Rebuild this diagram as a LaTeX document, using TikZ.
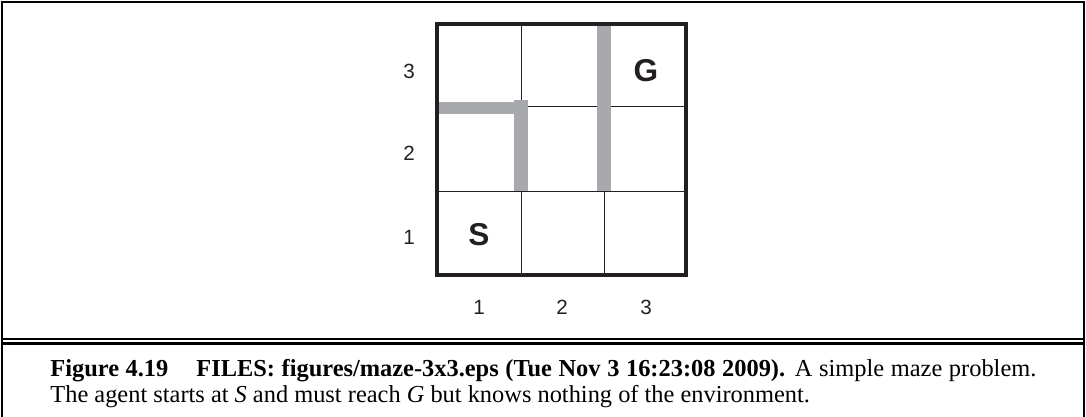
\documentclass[tikz,border=0pt]{standalone}
\usepackage{fontspec}
\setmainfont{Liberation Serif}
\newfontfamily\helv{Liberation Sans}
\definecolor{wallgray}{HTML}{A7A9AC}
\definecolor{ink}{HTML}{231F20}
\begin{document}
\begin{tikzpicture}[x=0.5pt,y=-0.5pt,
  frameline/.style={line width=1.35pt, draw=black},
  mazebox/.style={line width=1.6pt, draw=ink},
  gridline/.style={line width=0.5pt, draw=ink},
  wall/.style={fill=wallgray, draw=none},
  axislabel/.style={font=\helv\fontsize{10.3}{12}\selectfont, text=ink, inner sep=0pt},
  cellmark/.style={font=\helv\bfseries\fontsize{15.8}{18}\selectfont, text=ink, inner sep=0pt},
  captext/.style={font=\fontsize{12.2}{14}\selectfont, anchor=base west, inner sep=0pt}]
\useasboundingbox (0,0) rectangle (1086,417);
% outer frame
\coordinate (fbl) at (2,425);
\coordinate (ftl) at (2,2);
\coordinate (ftr) at (1084,2);
\coordinate (fbr) at (1084,425);
\draw[frameline] (fbl) -- (ftl) -- (ftr) -- (fbr);
\coordinate (d1l) at (2,339); \coordinate (d1r) at (1084,339);
\coordinate (d2l) at (2,343.5); \coordinate (d2r) at (1084,343.5);
\draw[frameline, line width=1.3pt] (d1l) -- (d1r);
\draw[frameline, line width=1.3pt] (d2l) -- (d2r);
% grid
\draw[gridline] (521,24) -- (521,107);
\draw[gridline] (521,107) -- (686,107);
\draw[gridline] (437,191) -- (686,191);
\draw[gridline] (521,191) -- (521,275);
\draw[gridline] (604,191) -- (604,275);
% walls
\fill[wall] (597,24) rectangle (611,191);
\fill[wall] (514,100) rectangle (528,191);
\fill[wall] (437,101.7) rectangle (528,114);
% maze box
\draw[mazebox] (437,24) rectangle (686,275);
% labels
\node[axislabel] (r3) at (409,71) {3};
\node[axislabel] (r2) at (409,153) {2};
\node[axislabel] (r1) at (409,237) {1};
\node[axislabel] (c1) at (479,307) {1};
\node[axislabel] (c2) at (562,307) {2};
\node[axislabel] (c3) at (646,307) {3};
\node[cellmark] (S) at (479,235) {S};
\node[cellmark] (G) at (646,71) {G};
% caption
\node[captext] (cap1) at (50,376) {\makebox[493pt][s]{\textbf{Figure 4.19}\hspace{14pt}\textbf{FILES: figures/maze-3x3.eps (Tue Nov 3 16:23:08 2009).} A simple maze problem.}};
\node[captext] (cap2) at (50,402) {The agent starts at \textit{S} and must reach \textit{G} but knows nothing of the environment.};
\end{tikzpicture}
\end{document}
